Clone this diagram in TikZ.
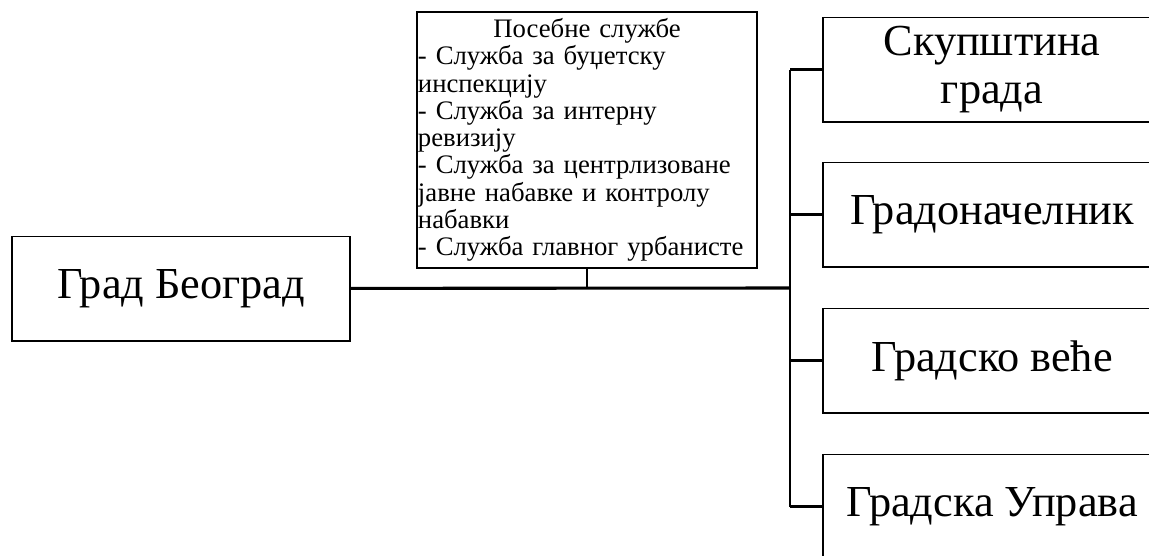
\documentclass[tikz,border=0pt]{standalone}
\usepackage{fontspec}
\setmainfont[Script=Cyrillic]{Liberation Serif}
\newfontfamily\srbfont[Script=Cyrillic]{Liberation Serif}
\usepackage{tikz}
\usetikzlibrary{positioning,calc}

\begin{document}
\begin{tikzpicture}[
 x=0.025cm, y=-0.025cm,
 bigbox/.style={draw, line width=1.4pt, align=center, minimum width=8.45cm, minimum height=2.6cm, inner sep=0pt, font=\srbfont\fontsize{31.5}{34}\selectfont},
 listbox/.style={draw, line width=1.4pt, align=left, text width=8.45cm, minimum height=6.4cm, inner sep=0.3mm, font=\srbfont\fontsize{19}{19.4}\selectfont},
 conn/.style={line width=1.8pt}
]
\useasboundingbox (0,0) rectangle (1149,555);
\clip (0,0) rectangle (1149,555);

\node[bigbox] (grad) at (181,288.5) {Град Београд};
\node[listbox] (posebne) at (587,140) {\makebox[8.45cm][c]{Посебне службе}\\- Служба за буџетску\\инспекцију\\- Служба за интерну\\ревизију\\- Служба за центрлизоване\\јавне набавке и контролу\\набавки\\- Служба главног урбанисте};

\node[bigbox] (skupstina) at (992,69.5) {Скупштина\\града};
\node[bigbox] (gradonacelnik) at (992,214.5) {Градоначелник};
\node[bigbox] (vece) at (992,360.5) {Градско веће};
\node[bigbox] (uprava) at (992,506.5) {Градска Управа};

\coordinate (bus) at (790,288);

\draw[conn, line width=2.2pt] (grad) -- (bus);
\draw[conn] (posebne) -- (posebne |- bus);
\draw[conn] (bus |- skupstina.west) -- (bus |- uprava.west);
\draw[conn] (bus |- skupstina.west) -- (skupstina);
\draw[conn] (bus |- gradonacelnik.west) -- (gradonacelnik);
\draw[conn] (bus |- vece.west) -- (vece);
\draw[conn] (bus |- uprava.west) -- (uprava);
\end{tikzpicture}
\end{document}
